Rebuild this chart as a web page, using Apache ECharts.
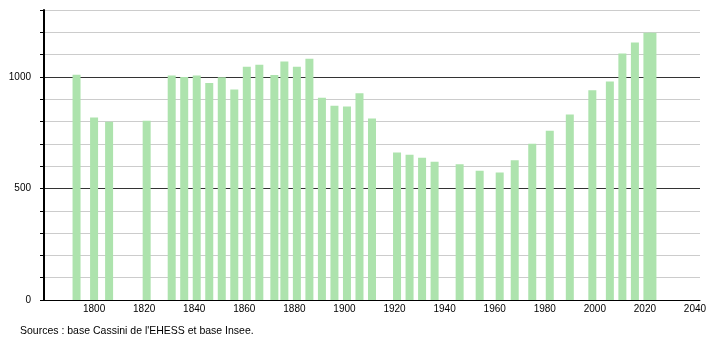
<!DOCTYPE html>
<html lang="fr">
<head>
    <meta charset="UTF-8">
    <title>Évolution démographique</title>
    <script src="https://cdn.jsdelivr.net/npm/echarts@6/dist/echarts.min.js"></script>
    <style>
        html, body { margin: 0; padding: 0; background: #fff; }
        #myCharts { width: 710px; height: 340px; }
    </style>
</head>
<body>
<div id="myCharts"></div>

<script>
    // années de recensement et population
    const years = [1793, 1800, 1806, 1821, 1831, 1836, 1841, 1846, 1851, 1856,
        1861, 1866, 1872, 1876, 1881, 1886, 1891, 1896, 1901, 1906,
        1911, 1921, 1926, 1931, 1936, 1946, 1954, 1962, 1968, 1975,
        1982, 1990, 1999, 2006, 2011, 2016, 2021, 2023];
    const population = [1010, 818, 799, 804, 1006, 1000, 1006, 973, 998, 944,
        1046, 1055, 1009, 1069, 1046, 1082, 907, 871, 867, 927,
        814, 661, 651, 638, 620, 608, 579, 572, 626, 700,
        759, 831, 940, 979, 1105, 1154, 1198, 1198];
    const yLabels = [0, 500, 1000];
    const sourceText = "Sources : base Cassini de l'EHESS et base Insee.";

    const font = 'Liberation Sans, Arial, sans-serif';
    let myChart = echarts.init(document.getElementById('myCharts'));

    myChart.setOption({
        animation: false,
        backgroundColor: '#fff',
        title: {
            text: sourceText,
            left: 15,
            top: 321,
            textStyle: {fontSize: 10.5, fontWeight: 'normal', color: '#000', fontFamily: font}
        },
        grid: {left: 44, right: 10, top: 10, bottom: 40},
        xAxis: {
            type: 'value',
            min: 1780,
            max: 2042,
            interval: 20,
            axisLine: {show: true, onZero: false, lineStyle: {color: '#000', width: 1}},
            axisTick: {show: false},
            splitLine: {show: false},
            axisLabel: {
                fontSize: 10,
                color: '#000',
                fontFamily: font,
                margin: 4,
                formatter: v => (v % 20 === 0 && v >= 1800) ? String(v) : ''
            }
        },
        yAxis: {
            type: 'value',
            min: 0,
            max: 1300,
            interval: 100,
            axisLine: {show: true, lineStyle: {color: '#000', width: 2}},
            axisTick: {show: true, length: 4, lineStyle: {color: '#000'}},
            splitLine: {
                show: true,
                lineStyle: {color: ['#333', '#ccc', '#ccc', '#ccc', '#ccc'], width: 1}
            },
            axisLabel: {
                fontSize: 10,
                color: '#000',
                fontFamily: font,
                margin: 13,
                formatter: v => yLabels.includes(v) ? String(v) : ''
            }
        },
        series: [{
            type: 'bar',
            barWidth: 8,
            itemStyle: {color: '#ade3ad'},
            data: years.map((y, i) => [y, population[i]])
        }]
    });
</script>
</body>
</html>
